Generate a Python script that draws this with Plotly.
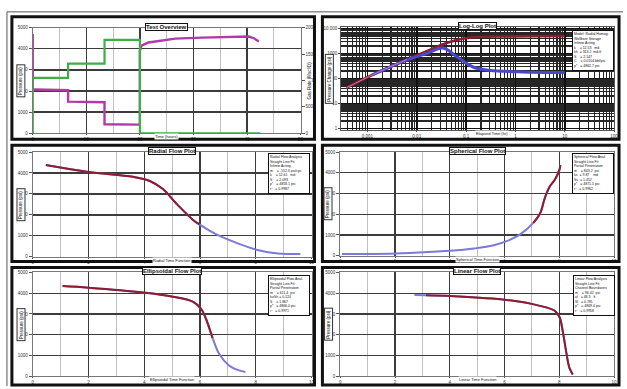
import plotly.graph_objects as go

W, H = 627, 389

# ---------------- data ----------------
# Test overview
pres_time = [0, 0, 0.3, 3.0, 6.6, 6.6, 10.0, 13.4, 13.4, 17.0, 20.0, 20.0, 20.3, 21.6, 24.0, 26.6, 31.6, 37.8, 40.3, 41.3, 42.2]
pres_psi = [4700, 2080, 2070, 2060, 2040, 1500, 1490, 1470, 430, 420, 410, 3900, 4150, 4300, 4400, 4480, 4530, 4570, 4580, 4500, 4350]
rate_time = [0, 0, 6.6, 6.6, 13.4, 13.4, 20.0, 20.0, 42.5]
rate_val = [0, 1050, 1050, 1320, 1320, 1770, 1770, 0, 0]

# Log-log
ll_dt = [0.00037, 0.00135, 0.0063, 0.0158, 0.040, 0.085, 0.186, 0.63, 10.0]
ll_dp = [42, 148, 575, 1230, 2630, 3890, 4570, 4790, 5010]
ll_der_dt = [0.00126, 0.0063, 0.0158, 0.034, 0.063, 0.138, 0.295, 1.38, 10.0]
ll_der = [140, 540, 1000, 1660, 776, 288, 214, 182, 174]

# Radial flow
rad_x = [0.47, 2.0, 3.6, 4.2, 4.67, 5.15, 5.74, 5.98, 6.57, 7.4, 8.1, 8.8, 9.6]
rad_y = [4385, 4050, 3815, 3615, 3230, 2540, 1770, 1540, 1075, 615, 310, 155, 125]
rad_model_n = 8

# Spherical flow
sph_x = [0.06, 2.0, 4.0, 4.9, 5.6, 6.1, 6.57, 7.05, 7.3, 7.47, 7.65, 7.83, 8.0, 8.04]
sph_y = [80, 110, 240, 350, 500, 715, 1030, 1585, 2050, 2780, 3335, 3650, 4125, 4365]
sph_model_start = 7

# Ellipsoidal flow
ell_x = [1.07, 2.0, 3.96, 5.03, 5.74, 6.04, 6.21, 6.45, 6.69, 7.04, 7.4, 7.63]
ell_y = [4345, 4265, 4030, 3830, 3595, 3250, 2780, 1845, 1065, 515, 280, 200]
ell_model_n = 8

# Linear flow
lin_x = [2.71, 3.13, 4.04, 6.08, 7.29, 7.83, 8.01, 8.13, 8.25, 8.37, 8.49]
lin_y = [3910, 3905, 3865, 3675, 3390, 3155, 2840, 2130, 1185, 395, 80]
lin_model_start = 1

titles = ["Test Overview", "Log-Log Plot", "Radial Flow Plot", "Spherical Flow Plot",
          "Ellipsoidal Flow Plot", "Linear Flow Plot"]
xtitles = ["Time (hours)", "Elapsed Time (hr)", "Radial Time Function",
           "Spherical Time Function", "Ellipsoidal Time Function", "Linear Time Function"]
legend_txt = [
    ["Model: Radial Homog.", "Wellbore Storage", "Infinite Acting", "k    = 12.53   md",
     "kh  = 313.2  md.ft", "S    = 2.147", "C    = 0.0104 bbl/psi", "p*   = 4862.7 psi"],
    ["Radial Flow Analysis", "Straight Line Fit", "Infinite Acting", "m    = -152.3 psi/cyc",
     "k    = 12.61   md", "S    = 2.093", "p*   = 4858.1 psi", "r²   = 0.9987"],
    ["Spherical Flow Anal.", "Straight Line Fit", "Partial Penetration", "m    = 843.2  psi",
     "ks  = 9.87    md", "Ss  = 1.452", "p*   = 4871.5 psi", "r²   = 0.9962"],
    ["Ellipsoidal Flow Anal.", "Straight Line Fit", "Partial Penetration", "m    = 611.4  psi",
     "kv/kh = 0.124", "S    = 1.867", "p*   = 4866.0 psi", "r²   = 0.9971"],
    ["Linear Flow Analysis", "Straight Line Fit", "Channel Boundaries", "m    = 96.42  psi",
     "xf   = 48.3   ft", "Sl   = 0.781", "p*   = 4869.4 psi", "r²   = 0.9958"],
]


# --------------- helpers ---------------
def fx(px):
    return px / W


def fy(py):
    return 1 - py / H


PINK = "#b03aa8"
GREEN = "#3fae45"
RED = "#8e1b2e"
BLUE = "#4848c8"
LBLUE = "#7a7ad8"
FONT = "Liberation Sans"
MAJ = "#3c3c3c"
MIN = "#b0b0b0"

# plot areas in pixels: (x0, x1, ytop, ybottom)
areas = [(32, 302, 26, 133), (343, 618, 25, 130), (32, 313, 152, 258),
         (342, 618, 152, 257), (32, 313, 274, 379), (342, 618, 274, 379)]
panels = [(11, 316, 15, 139), (324, 623, 15, 139), (11, 316, 145, 263),
          (324, 623, 145, 263), (11, 316, 269, 388), (324, 623, 269, 388)]

fig = go.Figure()

# Panel 1
fig.add_trace(go.Scatter(x=rate_time, y=rate_val, mode="lines", line=dict(color=GREEN, width=2.2),
                         xaxis="x", yaxis="y7", showlegend=False))
fig.add_trace(go.Scatter(x=pres_time, y=pres_psi, mode="lines", line=dict(color=PINK, width=2.4),
                         xaxis="x", yaxis="y", showlegend=False))
# Panel 2
fig.add_trace(go.Scatter(x=ll_dt, y=ll_dp, mode="lines", line=dict(color=RED, width=2.6, shape="spline"),
                         xaxis="x2", yaxis="y2", showlegend=False))
fig.add_trace(go.Scatter(x=ll_der_dt, y=ll_der, mode="lines", line=dict(color=BLUE, width=3, shape="spline"),
                         xaxis="x2", yaxis="y2", showlegend=False))
fig.add_trace(go.Scatter(x=ll_dt[:3], y=ll_dp[:3], mode="lines", line=dict(color="#d070c0", width=1, shape="spline"),
                         xaxis="x2", yaxis="y2", showlegend=False))
# Panel 3
fig.add_trace(go.Scatter(x=rad_x, y=rad_y, mode="lines", line=dict(color=LBLUE, width=2, shape="spline"),
                         xaxis="x3", yaxis="y3", showlegend=False))
fig.add_trace(go.Scatter(x=rad_x[:rad_model_n], y=rad_y[:rad_model_n], mode="lines",
                         line=dict(color=RED, width=2, shape="spline"), xaxis="x3", yaxis="y3", showlegend=False))
# Panel 4
fig.add_trace(go.Scatter(x=sph_x, y=sph_y, mode="lines", line=dict(color=LBLUE, width=2, shape="spline"),
                         xaxis="x4", yaxis="y4", showlegend=False))
fig.add_trace(go.Scatter(x=sph_x[sph_model_start:], y=sph_y[sph_model_start:], mode="lines",
                         line=dict(color=RED, width=2, shape="spline"), xaxis="x4", yaxis="y4", showlegend=False))
# Panel 5
fig.add_trace(go.Scatter(x=ell_x, y=ell_y, mode="lines", line=dict(color=LBLUE, width=2, shape="spline"),
                         xaxis="x5", yaxis="y5", showlegend=False))
fig.add_trace(go.Scatter(x=ell_x[:ell_model_n], y=ell_y[:ell_model_n], mode="lines",
                         line=dict(color=RED, width=2, shape="spline"), xaxis="x5", yaxis="y5", showlegend=False))
# Panel 6
fig.add_trace(go.Scatter(x=lin_x, y=lin_y, mode="lines", line=dict(color=LBLUE, width=2, shape="spline"),
                         xaxis="x6", yaxis="y6", showlegend=False))
fig.add_trace(go.Scatter(x=lin_x[lin_model_start:], y=lin_y[lin_model_start:], mode="lines",
                         line=dict(color=RED, width=2, shape="spline"), xaxis="x6", yaxis="y6", showlegend=False))

tickfont = dict(family=FONT, size=4.5, color="#333")


def lin_x_axis(i, rng, dtick, mdt):
    a = areas[i]
    return dict(domain=[fx(a[0]), fx(a[1])], range=rng, dtick=dtick, anchor="y" + ("" if i == 0 else str(i + 1)),
                showgrid=True, gridcolor=MAJ, gridwidth=1.4, zeroline=False, showline=True, linecolor="#777",
                linewidth=1, mirror=True, ticks="outside", ticklen=1, tickcolor="#555", tickfont=tickfont,
                minor=dict(dtick=mdt, showgrid=True, gridcolor=MIN, gridwidth=0.8))


def lin_y_axis(i, rng, dtick):
    a = areas[i]
    return dict(domain=[fy(a[3]), fy(a[2])], range=rng, dtick=dtick, anchor="x" + ("" if i == 0 else str(i + 1)),
                showgrid=True, gridcolor=MAJ, gridwidth=1.4, zeroline=False, showline=True, linecolor="#777",
                linewidth=1, mirror=True, ticks="outside", ticklen=3, tickcolor="#555", tickfont=tickfont)


layout = dict(width=W, height=H, margin=dict(l=0, r=0, t=0, b=0), paper_bgcolor="white",
              plot_bgcolor="white", showlegend=False)
layout["xaxis"] = lin_x_axis(0, [0, 50], 10, 5)
layout["yaxis"] = lin_y_axis(0, [0, 5000], 1000)
layout["yaxis7"] = dict(overlaying="y", side="right", anchor="x", range=[0, 2000], dtick=500, showgrid=False,
                        zeroline=False, ticks="outside", ticklen=3, tickcolor="#555", tickfont=tickfont,
                        showline=False)
a = areas[1]
layout["xaxis2"] = dict(type="log", domain=[fx(a[0]), fx(a[1])], range=[-3.53, 2.0], dtick=1, anchor="y2",
                        showgrid=True, gridcolor="#111", gridwidth=1.6, showline=True, linecolor="#555",
                        mirror=True, ticks="outside", ticklen=1, tickfont=tickfont, exponentformat="none",
                        minor=dict(dtick="D1", showgrid=True, gridcolor="#262626", gridwidth=1.2))
layout["yaxis2"] = dict(type="log", domain=[fy(a[3]), fy(a[2])], range=[-0.07, 4.07], dtick=1, anchor="x2",
                        showgrid=True, gridcolor="#111", gridwidth=1.6, showline=True, linecolor="#555",
                        mirror=True, ticks="outside", ticklen=2, tickfont=tickfont, exponentformat="none",
                        minor=dict(dtick="D1", showgrid=True, gridcolor="#262626", gridwidth=1.2))
for i in range(2, 6):
    layout["xaxis%d" % (i + 1)] = lin_x_axis(i, [0, 10], 2, 1)
    layout["yaxis%d" % (i + 1)] = lin_y_axis(i, [0, 5000], 1000)

shapes = []
# outer thin frame
shapes.append(dict(type="line", xref="paper", yref="paper", x0=fx(6), x1=1.0, y0=fy(10), y1=fy(10),
                   line=dict(color="#555", width=1)))
shapes.append(dict(type="line", xref="paper", yref="paper", x0=fx(6), x1=fx(6), y0=fy(10), y1=0,
                   line=dict(color="#555", width=1)))
for p in panels:
    shapes.append(dict(type="rect", xref="paper", yref="paper", x0=fx(p[0]), x1=fx(p[1]), y0=fy(p[3]),
                       y1=fy(p[2]), line=dict(color="#111", width=3)))
layout["shapes"] = shapes

ann = []
for i, t in enumerate(titles):
    a = areas[i]
    cx = (a[0] + a[1]) / 2
    ann.append(dict(xref="paper", yref="paper", x=fx(cx), y=fy(a[2] - 1), text="<b>%s</b>" % t, showarrow=False,
                    xanchor="center", yanchor="middle", font=dict(family=FONT, size=6, color="#111"),
                    bgcolor="white", bordercolor="#111", borderwidth=1, borderpad=0))
    tx = cx + 14 if i == 1 else cx
    ann.append(dict(xref="paper", yref="paper", x=fx(tx), y=fy(a[3] + 3.5), text=xtitles[i], showarrow=False,
                    xanchor="center", yanchor="middle", font=dict(family=FONT, size=4, color="#111"),
                    bgcolor="white", borderpad=0))
    ytxt = "Pressure Change (psi)" if i == 1 else "Pressure (psi)"
    ann.append(dict(xref="paper", yref="paper", x=fx(a[0] - 12), y=fy((a[2] + a[3]) / 2), text=ytxt,
                    showarrow=False, textangle=-90, xanchor="center", yanchor="middle",
                    font=dict(family=FONT, size=4.5, color="#111"), bgcolor="white", bordercolor="#333",
                    borderwidth=1, borderpad=1))
# right axis title of panel 1
ann.append(dict(xref="paper", yref="paper", x=fx(311), y=fy(80), text="Gas Rate (Mscf/D)", showarrow=False,
                textangle=-90, xanchor="center", yanchor="middle", font=dict(family=FONT, size=4.5, color="#111"),
                bgcolor="white", borderpad=0))

leg_pos = [(576, 28), (269, 153), (576, 153), (269, 277), (577, 277)]
for (lx, ly), lines in zip(leg_pos, legend_txt):
    ann.append(dict(xref="paper", yref="paper", x=fx(lx), y=fy(ly), text="<br>".join(lines), showarrow=False,
                    xanchor="left", yanchor="top", align="left", valign="top", width=38, height=37,
                    font=dict(family=FONT, size=3.5, color="#111"), bgcolor="white", bordercolor="#111",
                    borderwidth=1, borderpad=1))
layout["annotations"] = ann

fig.update_layout(**layout)
fig.write_html("out.html", config={"displayModeBar": False, "staticPlot": True},
               post_script="document.body.style.margin='0';document.body.style.overflow='hidden';")
